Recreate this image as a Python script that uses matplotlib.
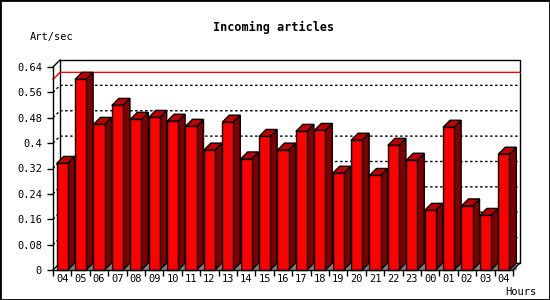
import numpy as np
import matplotlib
matplotlib.use('Agg')
import matplotlib.pyplot as plt
from matplotlib.patches import Polygon, Rectangle

hours = ['04','05','06','07','08','09','10','11','12','13','14','15','16',
         '17','18','19','20','21','22','23','00','01','02','03','04']
art_sec = [0.336,0.601,0.459,0.519,0.475,0.481,0.469,0.453,0.378,0.466,0.350,
           0.421,0.378,0.437,0.440,0.305,0.409,0.298,0.393,0.346,0.188,0.450,
           0.202,0.172,0.365]
yticks = [0, 0.08, 0.16, 0.24, 0.32, 0.4, 0.48, 0.56, 0.64]
ytick_labels = ['0','0.08','0.16','0.24','0.32','0.4','0.48','0.56','0.64']

plt.rcParams['font.family'] = 'DejaVu Sans Mono'

fig = plt.figure(figsize=(5.5, 3), dpi=100)
ax = fig.add_axes([53/550., 30/300., 460/550., 203/300.])

n = len(hours)
x = np.arange(n)
xmin, xmax = -0.5, n - 0.5
ymin, ymax = 0, 0.64
w = 0.6
dx = 7/18.4          # depth in data units (about 7 px)
dy = 7/317.2

ax.set_xlim(xmin, xmax)
ax.set_ylim(ymin, ymax)
for s in ax.spines.values():
    s.set_visible(False)

# back wall grid lines (dotted) incl. left wall diagonals
for v in yticks[1:-1]:
    ax.plot([xmin, xmin+dx, xmax+dx], [v, v+dy, v+dy], color='black', lw=1,
            ls=(0, (1.8, 1.8)), zorder=1, clip_on=False)

# max line in red
mx = max(art_sec)
ax.plot([xmin, xmin+dx, xmax+dx], [mx, mx+dy, mx+dy], color='red', lw=1,
        zorder=1.5, clip_on=False)

# frame of the 3d box
ax.plot([xmin+dx, xmin+dx, xmax+dx, xmax+dx, xmin+dx],
        [dy, ymax+dy, ymax+dy, dy, dy], color='black', lw=1, zorder=1, clip_on=False)
ax.plot([xmin, xmin+dx], [ymax, ymax+dy], color='black', lw=1, zorder=1, clip_on=False)
ax.plot([xmin, xmin+dx], [0, dy], color='black', lw=1, zorder=1, clip_on=False)

# bars
ax.bar(x, art_sec, width=w, color='#ff0000', edgecolor='black', lw=1,
       zorder=4, clip_on=False)
for xi, v in zip(x, art_sec):
    x0, x1 = xi - w/2, xi + w/2
    top = Polygon([(x0, v), (x1, v), (x1+dx, v+dy), (x0+dx, v+dy)], closed=True,
                  facecolor='#c00000', edgecolor='black', lw=1, zorder=3, clip_on=False)
    side = Polygon([(x1, 0), (x1+dx, dy), (x1+dx, v+dy), (x1, v)], closed=True,
                   facecolor='#800000', edgecolor='black', lw=1, zorder=3, clip_on=False)
    shade = Polygon([(x1, 0), (x1+dx, dy), (x1+dx, 0)], closed=True,
                    facecolor='#808080', edgecolor='#808080', lw=0.5, zorder=2, clip_on=False)
    ax.add_patch(shade)
    ax.add_patch(side)
    ax.add_patch(top)

# front axis lines
ax.plot([xmin, xmin], [ymin, ymax], color='black', lw=1, zorder=5, clip_on=False)
ax.plot([xmin, xmax], [0, 0], color='black', lw=1, zorder=5, clip_on=False)
ax.plot([xmax, xmax+dx], [0, dy], color='black', lw=1, zorder=5, clip_on=False)

ax.set_yticks(yticks)
ax.set_yticklabels(ytick_labels, fontsize=7.5)
ax.tick_params(axis='y', length=4, width=1, pad=4)

ax.set_xticks(np.arange(n + 1) - 0.5)
ax.set_xticklabels([])
ax.set_xticks(x, minor=True)
ax.set_xticklabels(hours, minor=True, fontsize=7.5)
ax.tick_params(axis='x', which='major', length=4, width=1)
ax.tick_params(axis='x', which='minor', length=0, pad=3)

fig.text(0.498, 0.91, 'Incoming articles', ha='center', va='center',
         fontsize=8.5, fontweight='bold')
fig.text(30/550., 1 - 37/300., 'Art/sec', ha='left', va='center', fontsize=7.5)
fig.text(505/550., 1 - 292/300., 'Hours', ha='left', va='center', fontsize=7.5)

fig.patches.append(Rectangle((0, 0), 1, 1, transform=fig.transFigure, fill=False,
                             edgecolor='black', lw=2, figure=fig))

plt.savefig('out.png', dpi=100)
